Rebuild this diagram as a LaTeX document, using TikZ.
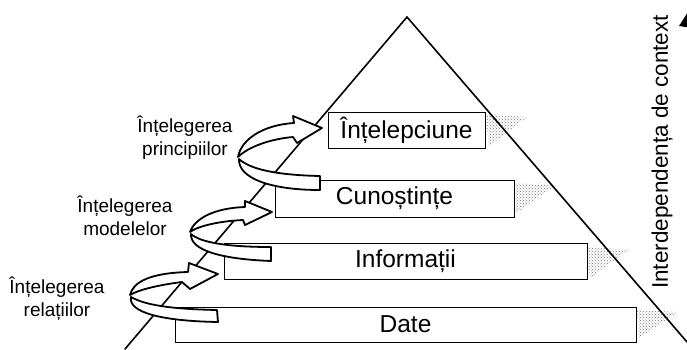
\documentclass[tikz,border=0pt]{standalone}
\usepackage{fontspec}
\setmainfont{Liberation Sans}
\usetikzlibrary{patterns}
\begin{document}
\begin{tikzpicture}[x=1pt,y=-1pt,
  level/.style={draw=black, line width=0.9pt, fill=white, inner sep=0pt,
    font=\fontsize{24.5}{28}\selectfont},
  edge/.style={line width=1.6pt, line cap=round},
  ribbon/.style={draw=black, line width=1.8pt, fill=white, line join=round},
  side/.style={pattern=crosshatch dots, pattern color=black!55, draw=none},
  steplabel/.style={align=center, inner sep=0pt, font=\fontsize{19}{23}\selectfont}
]
\useasboundingbox (0,0) rectangle (687,349);

% side faces of the levels
\fill[side] (486,114) -- (527,117) -- (489,146) -- cycle;
\fill[side] (515,183) -- (555,186) -- (516,213) -- cycle;
\fill[side] (588,247) -- (628,250) -- (590,278) -- cycle;
\fill[side] (637,310) -- (678,312) -- (639,338) -- cycle;

% pyramid outline
\coordinate (apex) at (407,17);
\coordinate (bl) at (125,349);
\coordinate (br) at (687,342);
\draw[edge] (bl) -- (apex) -- (br);

% levels
\node[level, minimum width=157pt, minimum height=36pt] (wis) at (406.5,130) {Înțelepciune};
\node[level, minimum width=239pt, minimum height=37pt] (kno) at (394.5,198.5) {Cunoștințe};
\node[level, minimum width=363pt, minimum height=36pt] (inf) at (405.5,261) {Informații};
\node[level, minimum width=461pt, minimum height=35pt] (dat) at (405.5,324.5) {Date};

% lower spiral arrow
\draw[ribbon] (130,295) .. controls (133,282) and (150,273) .. (188,272)
  -- (189,263) -- (218,274) -- (190,289) -- (182,282)
  .. controls (158,285) and (138,290) .. (130,295) -- cycle;
\draw[ribbon] (131,297) .. controls (145,305) and (170,309) .. (217,310)
  -- (218,322) .. controls (160,321) and (128,312) .. (131,297) -- cycle;

% middle spiral arrow
\draw[ribbon] (190,232) .. controls (195,218) and (215,208) .. (245,207)
  -- (245,201) -- (272,212) -- (245,225) -- (243,220)
  .. controls (220,221) and (198,226) .. (190,232) -- cycle;
\draw[ribbon] (191,234) .. controls (200,242) and (225,247) .. (271,247)
  -- (271,261) .. controls (220,259) and (190,250) .. (191,234) -- cycle;

% upper spiral arrow
\draw[ribbon] (238,157) .. controls (241,140) and (262,125) .. (294,123)
  -- (293,116) -- (322,128) -- (297,143) -- (293,137)
  .. controls (270,139) and (248,147) .. (238,157) -- cycle;
\draw[ribbon] (239,159) .. controls (250,169) and (275,175) .. (320,176)
  -- (320,190) .. controls (270,190) and (238,178) .. (239,159) -- cycle;

% step labels
\node[steplabel] (lp) at (185,138) {Înțelegerea\\principiilor};
\node[steplabel] (lm) at (125,216) {Înțelegerea\\modelelor};
\node[steplabel] (lr) at (57,299) {Înțelegerea\\relațiilor};

% context axis
\node[rotate=90, inner sep=0pt, font=\fontsize{22.5}{26}\selectfont] (ctx) at (662,152) {Interdependența de context};
\fill (679,26) -- (688,12) -- (692,28) -- cycle;
\end{tikzpicture}
\end{document}
